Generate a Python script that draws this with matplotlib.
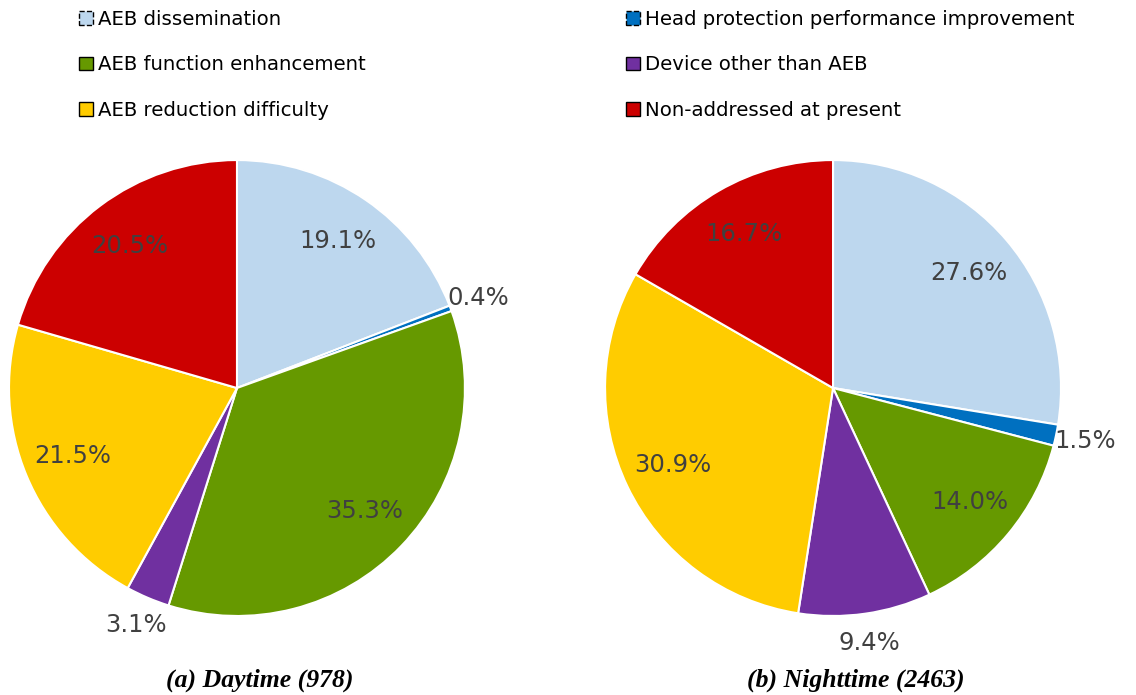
import numpy as np
import matplotlib
matplotlib.use('Agg')
import matplotlib.pyplot as plt
from matplotlib.patches import Patch

categories = ['AEB dissemination', 'Head protection performance improvement',
              'AEB function enhancement', 'Device other than AEB',
              'AEB reduction difficulty', 'Non-addressed at present']
day = [19.1, 0.4, 35.3, 3.1, 21.5, 20.5]
night = [27.6, 1.5, 14.0, 9.4, 30.9, 16.7]
titles = ['(a) Daytime (978)', '(b) Nighttime (2463)']
colors = ['#BDD7EE', '#0070C0', '#669900', '#7030A0', '#FFCC00', '#CC0000']

fig = plt.figure(figsize=(11.36, 6.95), dpi=100)
plt.rcParams['font.family'] = ['DejaVu Sans']

boxes = [[0.2086 - 0.2007, 0.4417 - 0.328, 0.4014, 0.656],
         [0.7333 - 0.2007, 0.4417 - 0.328, 0.4014, 0.656]]

for box, vals, title in zip(boxes, [day, night], titles):
    ax = fig.add_axes(box)
    wedges, _ = ax.pie(vals, colors=colors, startangle=90, counterclock=False,
                       normalize=True,
                       wedgeprops=dict(edgecolor='white', linewidth=1.5))
    for w, v in zip(wedges, vals):
        mid = np.deg2rad((w.theta1 + w.theta2) / 2)
        r = 1.13 if v < 10 else 0.78
        ax.text(r * np.cos(mid), r * np.sin(mid), f'{v:.1f}%',
                ha='center', va='center', fontsize=17.5, color='#404040')
    ax.set_xlim(-1, 1)
    ax.set_ylim(-1, 1)
    ax.set_aspect('equal')
    ax.text(0.1, -1.28, title, ha='center', va='center', fontsize=18.5,
            fontweight='bold', fontstyle='italic', family='Liberation Serif')

handles = []
for i, (c, lab) in enumerate(zip(colors, categories)):
    ls = '--' if i < 2 else '-'
    handles.append(Patch(facecolor=c, edgecolor='black', linestyle=ls,
                         linewidth=1.0, label=lab))

leg_kw = dict(frameon=False, fontsize=14.2, handlelength=0.7, handleheight=0.7,
              handletextpad=0.25, labelspacing=1.34, loc='upper left',
              borderaxespad=0)
l1 = fig.legend(handles=[handles[0], handles[2], handles[4]],
                bbox_to_anchor=(0.063, 0.997), **leg_kw)
l2 = fig.legend(handles=[handles[1], handles[3], handles[5]],
                bbox_to_anchor=(0.544, 0.997), **leg_kw)

fig.savefig('out.png', dpi=100, facecolor='white')
